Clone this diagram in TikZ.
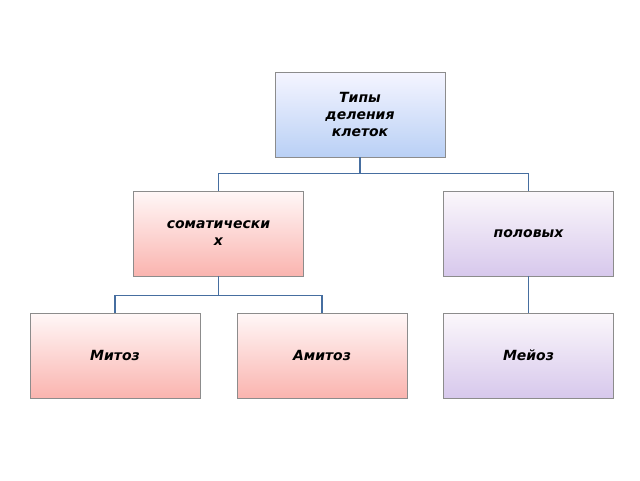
\documentclass[tikz,border=0pt]{standalone}
\usepackage{fontspec}
\setmainfont{DejaVu Sans}
\begin{document}
\begin{tikzpicture}[x=1pt,y=-1pt,
 box/.style={draw=black!45,line width=0.8pt,minimum width=170pt,minimum height=85pt,align=center,font=\bfseries\itshape\fontsize{14}{17}\selectfont},
 bluebox/.style={box,top color=blue!4,bottom color={rgb,255:red,185;green,208;blue,245}},
 pinkbox/.style={box,top color=red!3,bottom color={rgb,255:red,250;green,180;blue,175}},
 violetbox/.style={box,top color=violet!3,bottom color={rgb,255:red,215;green,200;blue,236}},
 conn/.style={draw={rgb,255:red,70;green,110;blue,160},line width=1.3pt}]
\useasboundingbox (0,0) rectangle (640,480);
\node[bluebox] (t) at (360,114.5) {Типы\\деления\\ клеток};
\node[pinkbox] (s) at (218.5,233.5) {соматически\\х};
\node[violetbox] (p) at (528.5,233.5) {половых};
\node[pinkbox] (m) at (115,355.5) {Митоз};
\node[pinkbox] (a) at (322,355.5) {Амитоз};
\node[violetbox] (me) at (528.5,355.5) {Мейоз};
\draw[conn] (t.south) -- ++(0,16) -| (s.north);
\draw[conn] (t.south) -- ++(0,16) -| (p.north);
\draw[conn] (s.south) -- ++(0,19) -| (m.north);
\draw[conn] (s.south) -- ++(0,19) -| (a.north);
\draw[conn] (p.south) -- (me.north);
\end{tikzpicture}
\end{document}
